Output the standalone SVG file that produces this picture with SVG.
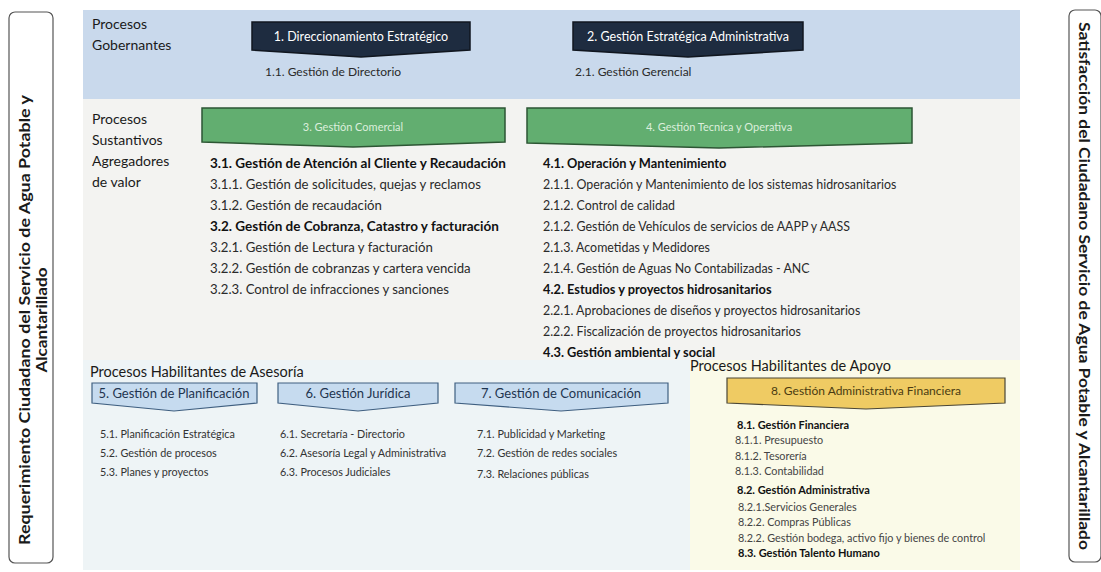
<svg xmlns="http://www.w3.org/2000/svg" width="1101" height="572" viewBox="0 0 1101 572">
<style>
text{font-family:Lato,"Liberation Sans",sans-serif;fill:#222}
.lbl{font-size:14px;fill:#1a1a1a}
.hd{font-size:14.5px;fill:#1a1a1a}
.it{font-size:12px;fill:#2a2a2a}
.it3{font-size:13.2px;fill:#2a2a2a}
.itb3{font-size:13.5px;font-weight:bold;fill:#111}
.it4{font-size:12.4px;fill:#2a2a2a}
.itb4{font-size:12.8px;font-weight:bold;fill:#111}
.sm{font-size:10.8px;fill:#333}
.xs{font-size:10.8px;fill:#444}
.xsb{font-size:11px;font-weight:bold;fill:#111}
.vt{font-size:15px;font-weight:bold;fill:#1a1a1a}
.dark{fill:#1e2c40;stroke:#10161f;stroke-width:1.5}
.dark-t{font-size:12.5px;fill:#ffffff;text-anchor:middle}
.green{fill:#62ae70;stroke:#2d5634;stroke-width:1.5}
.green-t{font-size:11px;fill:#dcefdc;text-anchor:middle}
.blue{fill:#c6dbef;stroke:#3f5f80;stroke-width:1.2}
.blue-t{font-size:13px;fill:#1f3550;text-anchor:middle}
.yel{fill:#efcb63;stroke:#4a4636;stroke-width:1.2}
.yel-t{font-size:12px;fill:#4a3b12;text-anchor:middle}
.side{fill:#ffffff;stroke:#555;stroke-width:1.2}
</style>
<rect x="0" y="0" width="1101" height="572" fill="#ffffff"/>
<g id="backgrounds">
<rect x="83" y="10" width="937" height="89" fill="#c9d9ec"/>
<rect x="83" y="99" width="937" height="261" fill="#f3f3f1"/>
<rect x="83" y="360" width="607" height="210" fill="#eef4f6"/>
<rect x="690" y="360" width="330" height="210" fill="#fafae8"/>
</g>
<g id="side-left">
<rect class="side" x="9" y="12" width="44" height="551" rx="6"/>
<text class="vt" transform="translate(30,320) rotate(-90)" text-anchor="middle" textLength="450" lengthAdjust="spacingAndGlyphs">Requerimiento Ciudadano del Servicio de Agua Potable y</text>
<text class="vt" transform="translate(47,320) rotate(-90)" text-anchor="middle" textLength="105" lengthAdjust="spacingAndGlyphs">Alcantarillado</text>
</g>
<g id="side-right">
<rect class="side" x="1069" y="10" width="32" height="552" rx="6"/>
<text class="vt" transform="translate(1079,286) rotate(90)" text-anchor="middle" textLength="528" lengthAdjust="spacingAndGlyphs">Satisfacción del Ciudadano Servicio de Agua Potable y Alcantarillado</text>
</g>
<g id="labels">
<text class="lbl" x="92" y="29">Procesos</text>
<text class="lbl" x="92" y="50">Gobernantes</text>
<text class="lbl" x="92" y="124">Procesos</text>
<text class="lbl" x="92" y="145">Sustantivos</text>
<text class="lbl" x="92" y="166">Agregadores</text>
<text class="lbl" x="92" y="187">de valor</text>
<text class="hd" x="90" y="377">Procesos Habilitantes de Asesoría</text>
<text class="hd" x="690" y="371">Procesos Habilitantes de Apoyo</text>
</g>
<g id="n1">
<path class="dark" d="M252,22 H470 V50 L361,57 L252,50 Z"/>
<text class="dark-t" x="361" y="41">1. Direccionamiento Estratégico</text>
<text class="it" x="265" y="76">1.1. Gestión de Directorio</text>
</g>
<g id="n2">
<path class="dark" d="M573,22 H803 V50 L688,57 L573,50 Z"/>
<text class="dark-t" x="688" y="41">2. Gestión Estratégica Administrativa</text>
<text class="it" x="575" y="76">2.1. Gestión Gerencial</text>
</g>
<g id="n3">
<path class="green" d="M202,108 H505 V142 L353,147 L202,142 Z"/>
<text class="green-t" x="353" y="131">3. Gestión Comercial</text>
<text class="itb3" x="210" y="168">3.1. Gestión de Atención al Cliente y Recaudación</text>
<text class="it3" x="210" y="189">3.1.1. Gestión de solicitudes, quejas y reclamos</text>
<text class="it3" x="210" y="210">3.1.2. Gestión de recaudación</text>
<text class="itb3" x="210" y="231">3.2. Gestión de Cobranza, Catastro y facturación</text>
<text class="it3" x="210" y="252">3.2.1. Gestión de Lectura y facturación</text>
<text class="it3" x="210" y="273">3.2.2. Gestión de cobranzas y cartera vencida</text>
<text class="it3" x="210" y="294">3.2.3. Control de infracciones y sanciones</text>
</g>
<g id="n4">
<path class="green" d="M527,108 H912 V143 L719,148 L527,143 Z"/>
<text class="green-t" x="719" y="131">4. Gestión Tecnica y Operativa</text>
<text class="itb4" x="543" y="168">4.1. Operación y Mantenimiento</text>
<text class="it4" x="543" y="189">2.1.1. Operación y Mantenimiento de los sistemas hidrosanitarios</text>
<text class="it4" x="543" y="210">2.1.2. Control de calidad</text>
<text class="it4" x="543" y="231">2.1.2. Gestión de Vehículos de servicios de AAPP y AASS</text>
<text class="it4" x="543" y="252">2.1.3. Acometidas y Medidores</text>
<text class="it4" x="543" y="273">2.1.4. Gestión de Aguas No Contabilizadas - ANC</text>
<text class="itb4" x="543" y="294">4.2. Estudios y proyectos hidrosanitarios</text>
<text class="it4" x="543" y="315">2.2.1. Aprobaciones de diseños y proyectos hidrosanitarios</text>
<text class="it4" x="543" y="336">2.2.2. Fiscalización de proyectos hidrosanitarios</text>
<text class="itb4" x="543" y="357">4.3. Gestión ambiental y social</text>
</g>
<g id="n5">
<path class="blue" d="M92,383 H257 V403 L174,411 L92,403 Z"/>
<text class="blue-t" x="174" y="398">5. Gestión de Planificación</text>
<text class="sm" x="100" y="438">5.1. Planificación Estratégica</text>
<text class="sm" x="100" y="457">5.2. Gestión de procesos</text>
<text class="sm" x="100" y="476">5.3. Planes y proyectos</text>
</g>
<g id="n6">
<path class="blue" d="M278,383 H438 V403 L358,411 L278,403 Z"/>
<text class="blue-t" x="358" y="398">6. Gestión Jurídica</text>
<text class="sm" x="280" y="438">6.1. Secretaría - Directorio</text>
<text class="sm" x="280" y="457">6.2. Asesoría Legal y Administrativa</text>
<text class="sm" x="280" y="476">6.3. Procesos Judiciales</text>
</g>
<g id="n7">
<path class="blue" d="M455,383 H668 V403 L561,411 L455,403 Z"/>
<text class="blue-t" x="561" y="398">7. Gestión de Comunicación</text>
<text class="sm" x="477" y="438">7.1. Publicidad y Marketing</text>
<text class="sm" x="477" y="457">7.2. Gestión de redes sociales</text>
<text class="sm" x="477" y="478">7.3. Relaciones públicas</text>
</g>
<g id="n8">
<path class="yel" d="M727,378 H1005 V403 L866,409 L727,403 Z"/>
<text class="yel-t" x="866" y="395">8. Gestión Administrativa Financiera</text>
<text class="xsb" x="737" y="429">8.1. Gestión Financiera</text>
<text class="xs" x="735" y="444">8.1.1. Presupuesto</text>
<text class="xs" x="735" y="460">8.1.2. Tesorería</text>
<text class="xs" x="735" y="475">8.1.3. Contabilidad</text>
<text class="xsb" x="737" y="494">8.2. Gestión Administrativa</text>
<text class="xs" x="738" y="511">8.2.1.Servicios Generales</text>
<text class="xs" x="738" y="526">8.2.2. Compras Públicas</text>
<text class="xs" x="738" y="542">8.2.2. Gestión bodega, activo fijo y bienes de control</text>
<text class="xsb" x="738" y="557">8.3. Gestión Talento Humano</text>
</g>
<g id="connectors"></g>
</svg>
